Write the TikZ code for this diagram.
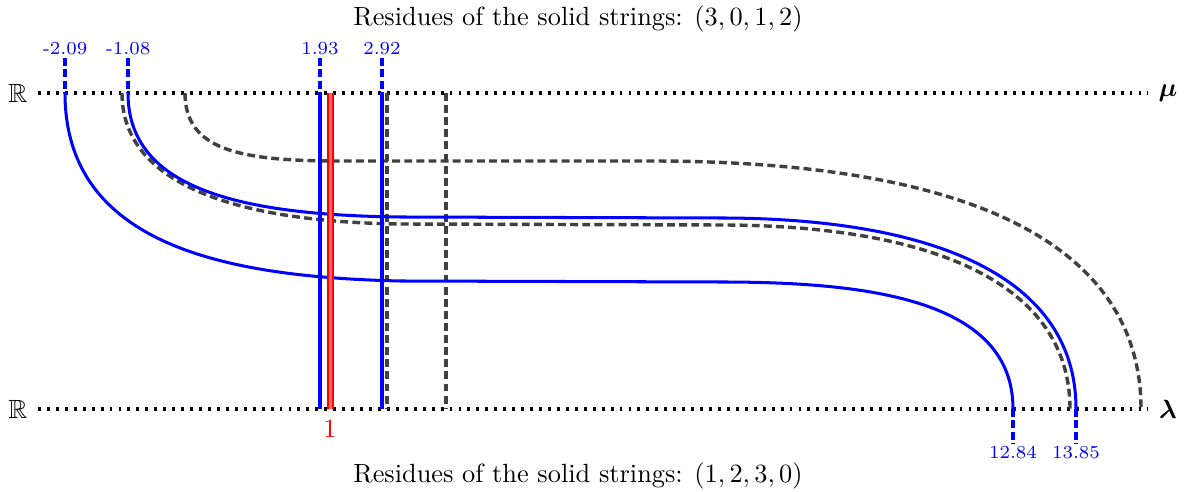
\documentclass[tikz,border=0pt]{standalone}
\usepackage{amssymb,bm}
\begin{document}
\begin{tikzpicture}[x=0.38pt,y=-0.38pt,
  axis/.style={black,line width=1.2pt,dash pattern=on 1.1pt off 2.3pt},
  solidstr/.style={blue,line width=1.15pt},
  ghost/.style={black!75,line width=1.3pt,dash pattern=on 3pt off 1.6pt},
  tickmk/.style={blue,line width=1.3pt,dash pattern=on 3pt off 1.3pt},
  val/.style={blue,font=\scriptsize,inner sep=1pt},
  redstr/.style={draw=red,line width=0.8pt,double=red!60,double distance=1.3pt}]
\useasboundingbox (0,0) rectangle (1186,492);
% axes
\coordinate (tl) at (38,93);  \coordinate (tr) at (1148,93);
\coordinate (bl) at (38,409); \coordinate (br) at (1148,409);
\draw[axis] (tl) -- (tr);
\draw[axis] (bl) -- (br);
\node (R1) at (18,93) {$\mathbb{R}$};
\node (R2) at (18,409) {$\mathbb{R}$};
\node (mu) at (1168,93) {$\bm{\mu}$};
\node (lam) at (1168,409) {$\bm{\lambda}$};
% titles
\node (ttop) at (578,19) {Residues of the solid strings: $(3,0,1,2)$};
\node (tbot) at (578,476) {Residues of the solid strings: $(1,2,3,0)$};
% dashed (ghost) strings
\draw[ghost] (122,93) .. controls (122,190) and (250,222) .. (400,224)
  -- (720,225) .. controls (915,225) and (1070,275) .. (1070,409);
\draw[ghost] (185,93) .. controls (185,150) and (240,160) .. (330,161)
  -- (650,161) .. controls (1000,161) and (1141,260) .. (1141,409);
\draw[ghost] (387,93) -- (387,409);
\draw[ghost] (446,93) -- (446,409);
% solid strings
\draw[solidstr] (65,93) .. controls (65,245) and (225,277) .. (400,281)
  -- (720,282) .. controls (870,282) and (1013,300) .. (1013,409);
\draw[solidstr] (128,93) .. controls (128,185) and (230,215) .. (400,217)
  -- (720,218) .. controls (920,218) and (1076,270) .. (1076,409);
\draw[solidstr] (320,93) -- (320,409);
\draw[solidstr] (382,93) -- (382,409);
% red string
\draw[redstr] (330.5,93) -- (330.5,409);
\node[red] (one) at (330,429) {1};
% value ticks
\coordinate (a1) at (65,58);  \coordinate (a2) at (128,58);
\coordinate (a3) at (320,58); \coordinate (a4) at (382,58);
\draw[tickmk] (a1) -- (65,93);
\draw[tickmk] (a2) -- (128,93);
\draw[tickmk] (a3) -- (320,93);
\draw[tickmk] (a4) -- (382,93);
\node[val,anchor=south] (v1) at (a1) {-2.09};
\node[val,anchor=south] (v2) at (a2) {-1.08};
\node[val,anchor=south] (v3) at (a3) {1.93};
\node[val,anchor=south] (v4) at (a4) {2.92};
\coordinate (b1) at (1013,443); \coordinate (b2) at (1076,443);
\draw[tickmk] (1013,409) -- (b1);
\draw[tickmk] (1076,409) -- (b2);
\node[val,anchor=north] (v5) at (b1) {12.84};
\node[val,anchor=north] (v6) at (b2) {13.85};
\end{tikzpicture}
\end{document}
